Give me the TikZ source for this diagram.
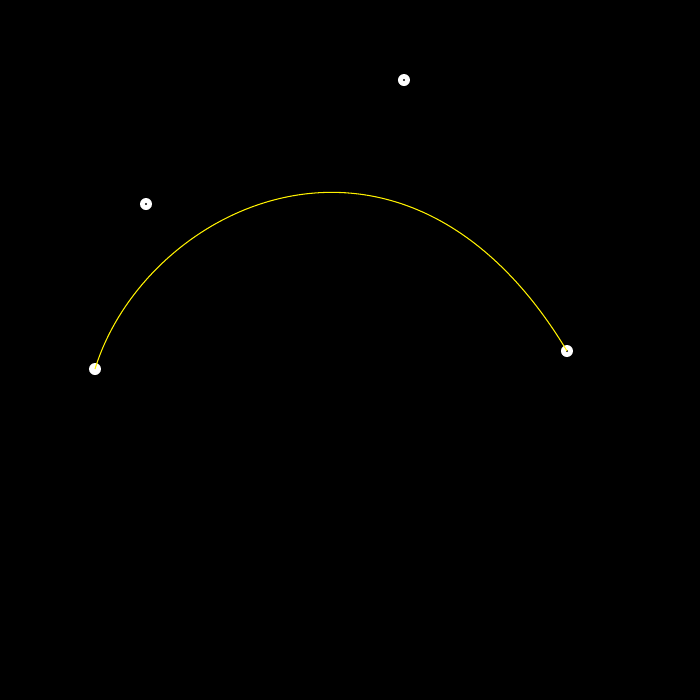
\documentclass[tikz,border=0pt]{standalone}
\usepackage{tikz}
\usetikzlibrary{positioning}

\begin{document}
\begin{tikzpicture}[
  every node/.style={circle,fill=white,inner sep=0pt,minimum size=0.12cm},
  ctrl/.style={path picture={\fill[black] (path picture bounding box.center) circle (0.012);}}
]
  \fill[black] (0,0) rectangle (7,7);
  \useasboundingbox (0,0) rectangle (7,7);

  \node (p0) at (0.95,3.31) {};
  \node[ctrl] (p1) at (1.46,4.96) {};
  \node[ctrl] (p2) at (4.04,6.20) {};
  \node[ctrl] (p3) at (5.67,3.49) {};

  \draw[yellow,line width=0.3pt] (p0.center) .. controls (p1.center) and (p2.center) .. (p3.center);
\end{tikzpicture}
\end{document}
